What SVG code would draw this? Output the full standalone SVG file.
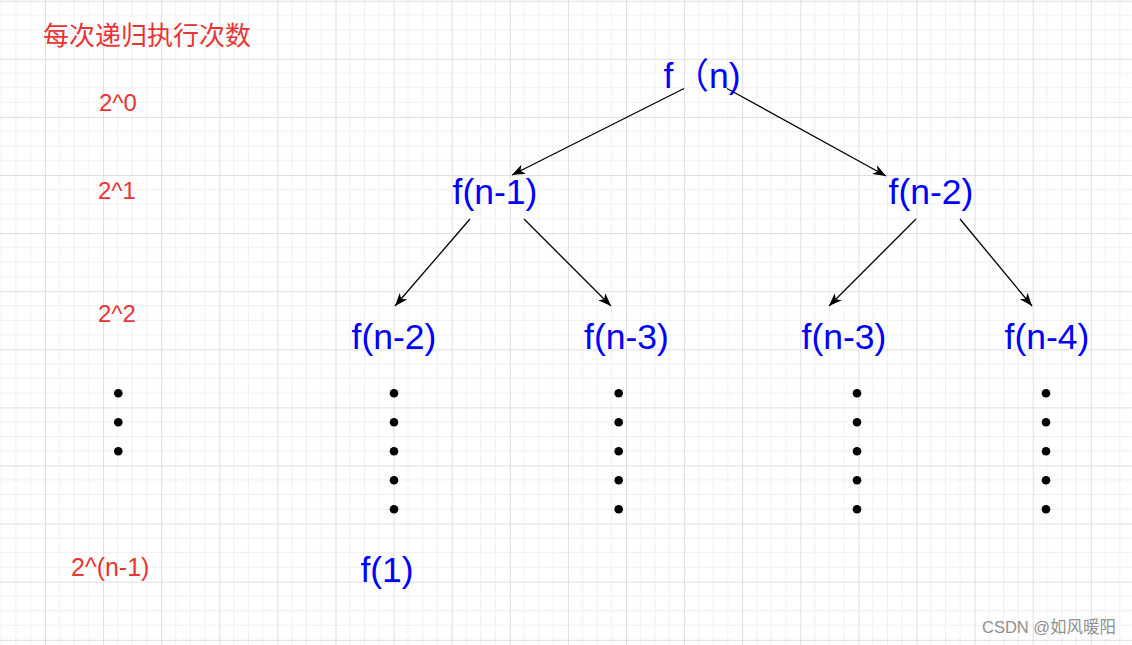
<svg xmlns="http://www.w3.org/2000/svg" width="1132" height="645" viewBox="0 0 1132 645">
  <defs>
    <pattern id="grid" patternUnits="userSpaceOnUse" x="45" y="0.7" width="58.1" height="58.1">
      <path d="M14.525,0V58.1M29.05,0V58.1M43.575,0V58.1M0,14.525H58.1M0,29.05H58.1M0,43.575H58.1" stroke="#efefef" stroke-width="1" fill="none"/>
      <path d="M0.5,0V58.1M0,0.5H58.1" stroke="#dedede" stroke-width="1" fill="none"/>
    </pattern>
    <marker id="arrow" markerUnits="userSpaceOnUse" viewBox="-14 -6 15 12" markerWidth="15" markerHeight="12" refX="0" refY="0" orient="auto">
      <path d="M0,0 L-13,-5 L-9.5,0 L-13,5 Z" fill="#000"/>
    </marker>
    <style>
      .lbl { font-family: "Liberation Sans", Arial, "Noto Sans CJK SC", sans-serif; fill: #ea3434; font-size: 24px; }
      .title { font-family: "Noto Sans CJK SC", "Liberation Sans", sans-serif; fill: #ea3434; font-size: 26px; }
      .node { font-family: "Liberation Sans", Arial, "Noto Sans CJK SC", sans-serif; fill: #0000ff; font-size: 35.5px; text-anchor: middle; }
      .edge { stroke: #000; stroke-width: 1.3; fill: none; marker-end: url(#arrow); }
      .dot { fill: #000; }
      .wm { font-family: "Liberation Sans", Arial, "Noto Sans CJK SC", sans-serif; fill: #8f8f8f; font-size: 16.5px; }
    </style>
  </defs>
  <rect x="0" y="0" width="1132" height="645" fill="#ffffff"/>
  <rect x="0" y="0" width="1132" height="645" fill="url(#grid)"/>

  <g id="labels">
    <text class="title" x="43" y="45">每次递归执行次数</text>
    <text class="lbl" x="99" y="111">2^0</text>
    <text class="lbl" x="98" y="199">2^1</text>
    <text class="lbl" x="98" y="322">2^2</text>
    <text class="lbl" x="71" y="576" style="font-size:25px">2^(n-1)</text>
  </g>
  <g id="left-dots">
    <circle class="dot" cx="118.3" cy="393.3" r="4.3"/>
    <circle class="dot" cx="118.3" cy="422.3" r="4.3"/>
    <circle class="dot" cx="118.3" cy="451.3" r="4.3"/>
  </g>

  <g id="connectors">
    <path class="edge" d="M684,88.5 L512,175"/>
    <path class="edge" d="M727,88.5 L886,176"/>
    <path class="edge" d="M470,219 L395,306"/>
    <path class="edge" d="M524,219 L611,306"/>
    <path class="edge" d="M916,219 L829,306"/>
    <path class="edge" d="M960,219 L1032,306"/>
  </g>

  <g id="node-fn"><text class="node" x="702" y="88">f（n)</text></g>
  <g id="node-fn1"><text class="node" x="495" y="204">f(n-1)</text></g>
  <g id="node-fn2"><text class="node" x="931" y="204">f(n-2)</text></g>
  <g id="node-fn2b"><text class="node" x="394" y="349">f(n-2)</text></g>
  <g id="node-fn3a"><text class="node" x="626.5" y="349">f(n-3)</text></g>
  <g id="node-fn3b"><text class="node" x="844" y="349">f(n-3)</text></g>
  <g id="node-fn4"><text class="node" x="1047" y="349">f(n-4)</text></g>
  <g id="node-f1"><text class="node" x="387" y="582">f(1)</text></g>

  <g id="dots-col1">
    <circle class="dot" cx="394" cy="393.3" r="4.3"/>
    <circle class="dot" cx="394" cy="422.3" r="4.3"/>
    <circle class="dot" cx="394" cy="451.3" r="4.3"/>
    <circle class="dot" cx="394" cy="480.3" r="4.3"/>
    <circle class="dot" cx="394" cy="509.3" r="4.3"/>
  </g>
  <g id="dots-col2">
    <circle class="dot" cx="618.7" cy="393.3" r="4.3"/>
    <circle class="dot" cx="618.7" cy="422.3" r="4.3"/>
    <circle class="dot" cx="618.7" cy="451.3" r="4.3"/>
    <circle class="dot" cx="618.7" cy="480.3" r="4.3"/>
    <circle class="dot" cx="618.7" cy="509.3" r="4.3"/>
  </g>
  <g id="dots-col3">
    <circle class="dot" cx="857" cy="393.3" r="4.3"/>
    <circle class="dot" cx="857" cy="422.3" r="4.3"/>
    <circle class="dot" cx="857" cy="451.3" r="4.3"/>
    <circle class="dot" cx="857" cy="480.3" r="4.3"/>
    <circle class="dot" cx="857" cy="509.3" r="4.3"/>
  </g>
  <g id="dots-col4">
    <circle class="dot" cx="1046" cy="393.3" r="4.3"/>
    <circle class="dot" cx="1046" cy="422.3" r="4.3"/>
    <circle class="dot" cx="1046" cy="451.3" r="4.3"/>
    <circle class="dot" cx="1046" cy="480.3" r="4.3"/>
    <circle class="dot" cx="1046" cy="509.3" r="4.3"/>
  </g>

  <g id="watermark"><text class="wm" x="982" y="633">CSDN @如风暖阳</text></g>
</svg>
